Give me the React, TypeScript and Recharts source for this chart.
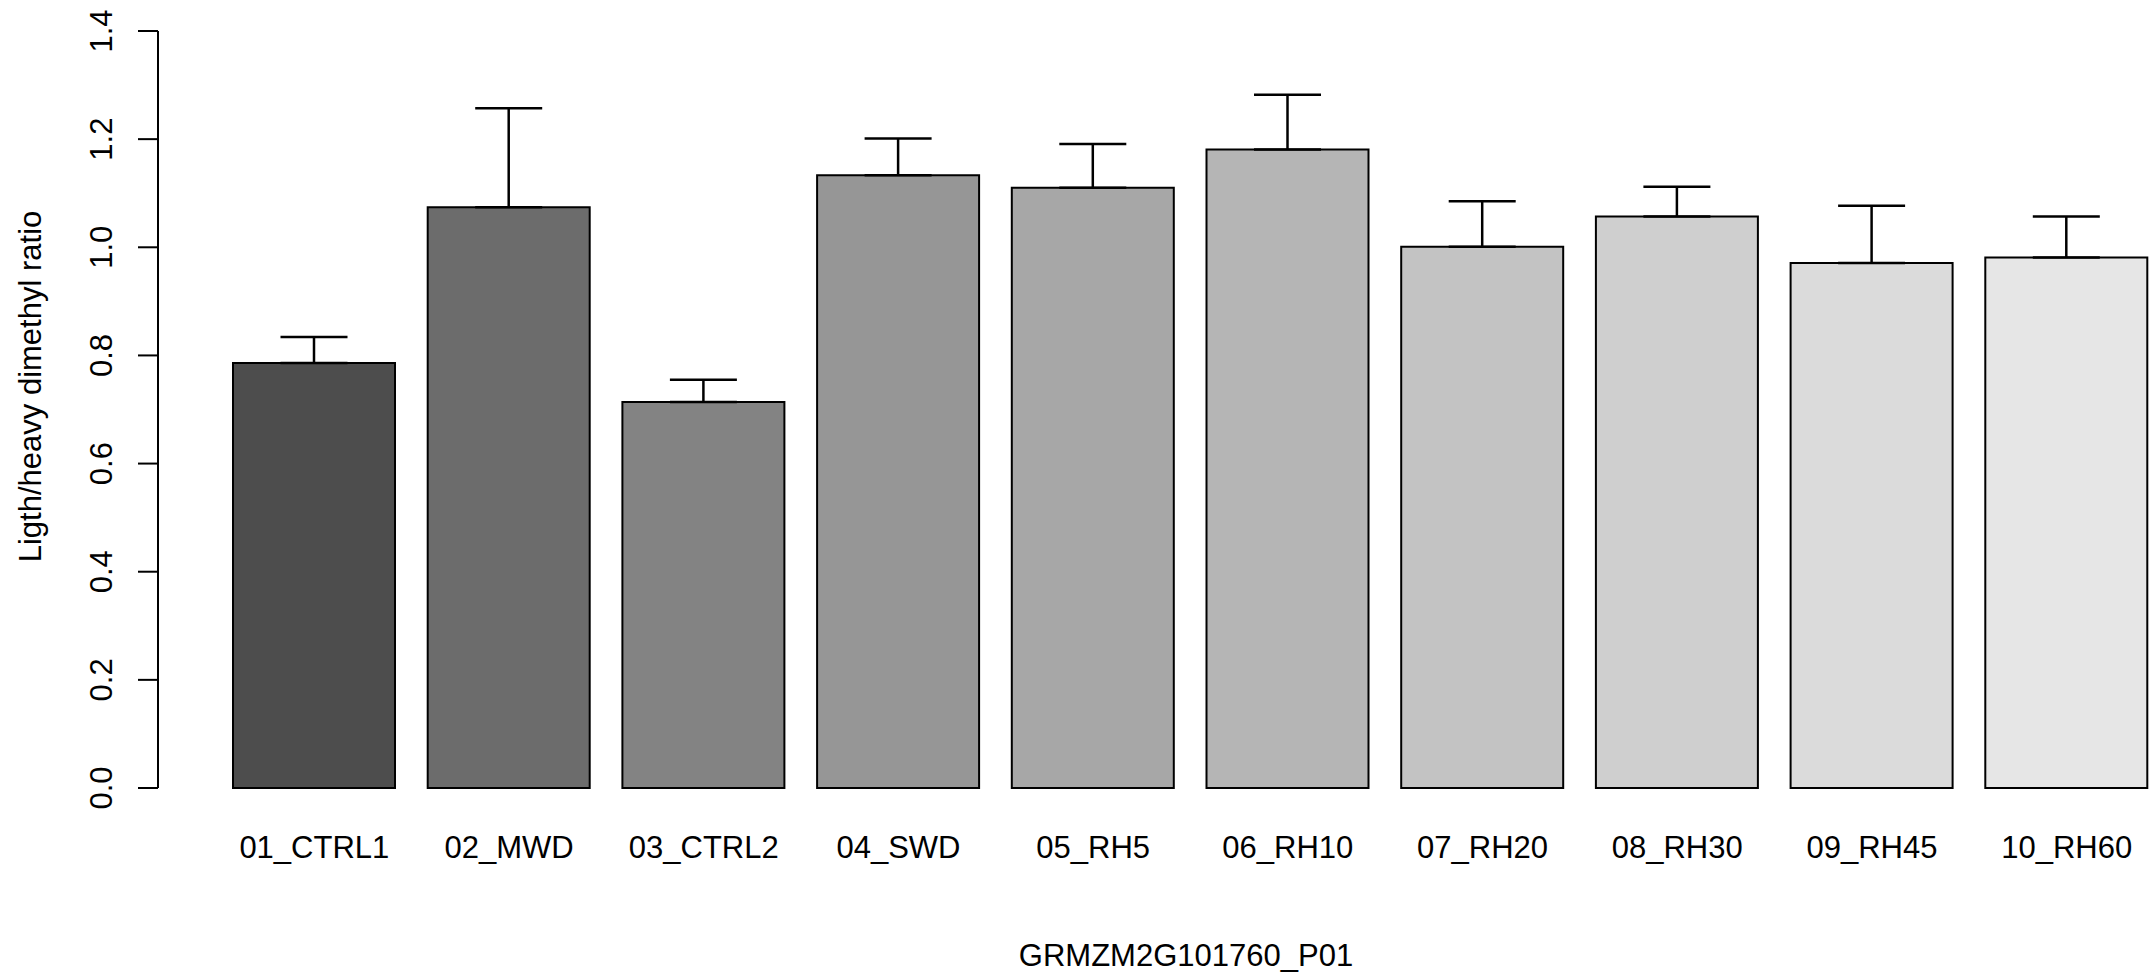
import { BarChart, Bar, XAxis, YAxis, ErrorBar, Cell } from 'recharts';

const categories = [
  '01_CTRL1',
  '02_MWD',
  '03_CTRL2',
  '04_SWD',
  '05_RH5',
  '06_RH10',
  '07_RH20',
  '08_RH30',
  '09_RH45',
  '10_RH60',
];
const ratios = [0.786, 1.074, 0.714, 1.133, 1.11, 1.181, 1.001, 1.057, 0.971, 0.981];
const errors = [0.048, 0.183, 0.041, 0.068, 0.081, 0.101, 0.084, 0.055, 0.106, 0.076];
const yTicks = [0, 0.2, 0.4, 0.6, 0.8, 1.0, 1.2, 1.4];
const grays = [
  '#4d4d4d',
  '#6c6c6c',
  '#838383',
  '#969696',
  '#a7a7a7',
  '#b5b5b5',
  '#c3c3c3',
  '#cfcfcf',
  '#dbdbdb',
  '#e6e6e6',
];

const data = categories.map((name, i) => ({
  name,
  ratio: ratios[i],
  err: [0, errors[i]],
}));

const FONT = '"Liberation Sans", Arial, Helvetica, sans-serif';

function XTick({ x, y, payload }: any) {
  return (
    <text x={x} y={y + 70} textAnchor="middle" fontSize={31} fontFamily={FONT} fill="#000">
      {payload.value}
    </text>
  );
}

function YTick({ x, y, payload }: any) {
  return (
    <text
      x={x}
      y={y}
      transform={`rotate(-90 ${x} ${y})`}
      textAnchor="middle"
      fontSize={31}
      fontFamily={FONT}
      fill="#000"
    >
      {payload.value.toFixed(1)}
    </text>
  );
}

export default function App() {
  return (
    <div style={{ position: 'absolute', left: 0, top: 0, width: 2150, height: 980, overflow: 'hidden', background: '#fff' }}>
      <BarChart
        width={2164}
        height={980}
        data={data}
        margin={{ top: 31, right: 0, bottom: 0, left: 0 }}
      >
        <XAxis
          dataKey="name"
          height={192}
          axisLine={false}
          tickLine={false}
          tickSize={0}
          tickMargin={0}
          interval={0}
          padding={{ left: 59, right: 0 }}
          tick={<XTick />}
          label={{
            content: ({ viewBox }: any) => (
              <text
                x={viewBox.x + viewBox.width / 2 + 25}
                y={viewBox.y + 178}
                textAnchor="middle"
                fontSize={31}
                fontFamily={FONT}
                fill="#000"
              >
                GRMZM2G101760_P01
              </text>
            ),
          }}
        />
        <YAxis
          width={158}
          domain={[0, 1.4]}
          ticks={yTicks}
          interval={0}
          tickSize={20}
          tickMargin={26}
          axisLine={{ stroke: '#000', strokeWidth: 2 }}
          tickLine={{ stroke: '#000', strokeWidth: 2 }}
          tick={<YTick />}
          label={{
            content: ({ viewBox }: any) => {
              const cx = viewBox.x + 41;
              const cy = viewBox.y + viewBox.height / 2 - 23;
              return (
                <text
                  x={cx}
                  y={cy}
                  transform={`rotate(-90 ${cx} ${cy})`}
                  textAnchor="middle"
                  fontSize={31}
                  fontFamily={FONT}
                  fill="#000"
                >
                  Ligth/heavy dimethyl ratio
                </text>
              );
            },
          }}
        />
        <Bar dataKey="ratio" barSize={162} stroke="#000" strokeWidth={2} isAnimationActive={false}>
          {data.map((d, i) => (
            <Cell key={d.name} fill={grays[i]} />
          ))}
          <ErrorBar dataKey="err" width={33.5} stroke="#000" strokeWidth={2.5} direction="y" />
        </Bar>
      </BarChart>
    </div>
  );
}
